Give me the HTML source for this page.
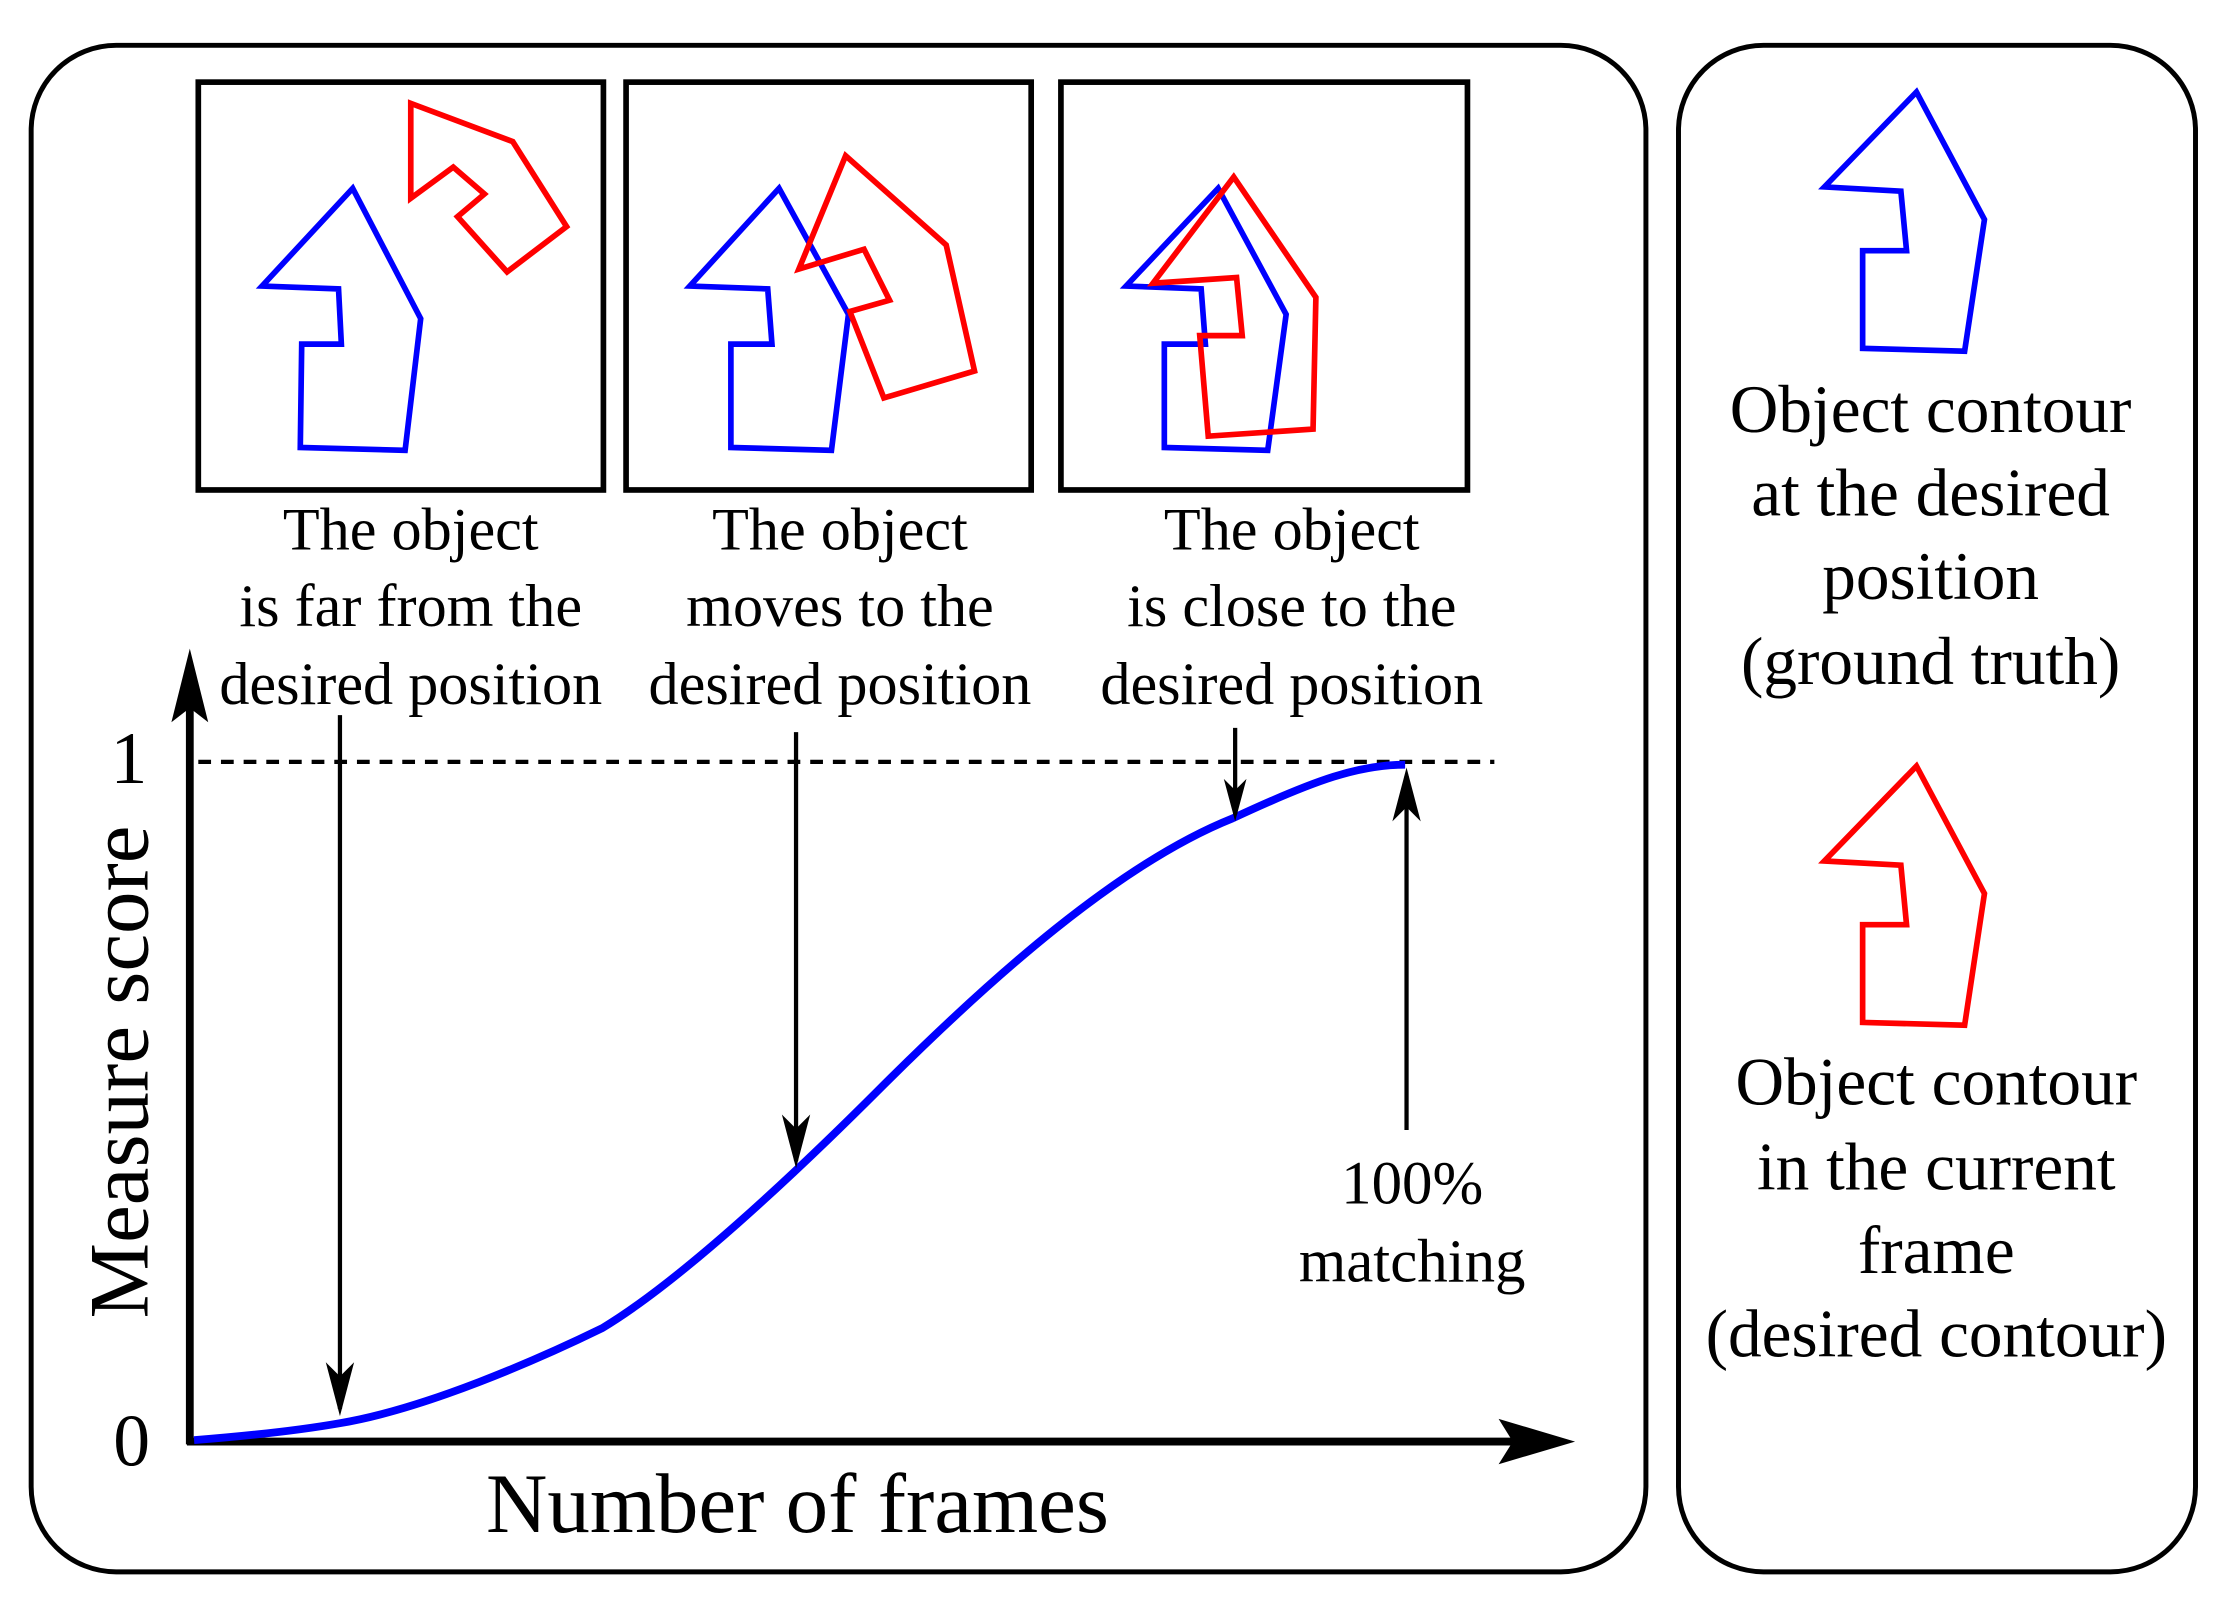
<!DOCTYPE html>
<html><head><meta charset="utf-8"><style>
html,body{margin:0;padding:0;background:#fff;}
svg{display:block;}
text{font-family:"Liberation Serif",serif;fill:#000;}
</style></head><body>
<svg width="2221" height="1603" viewBox="0 0 1568 1132" preserveAspectRatio="none" xmlns="http://www.w3.org/2000/svg">
<rect x="22" y="32" width="1140" height="1078" rx="60" fill="none" stroke="#000" stroke-width="3.5"/>
<rect x="1185" y="32" width="365" height="1078" rx="60" fill="none" stroke="#000" stroke-width="3.5"/>
<g fill="none" stroke="#000" stroke-width="4">
<rect x="140" y="58" width="286" height="288"/>
<rect x="442" y="58" width="286" height="288"/>
<rect x="749" y="58" width="287" height="288"/>
</g>
<g fill="none" stroke-width="4" stroke-linejoin="miter">
<polygon stroke="#0000ff" points="185,202 249,133 297,225 286,318 212,316 213,243 241,243 239,204"/>
<polygon stroke="#ff0000" points="290,73 362,100 400,160 358,192 323,153 342,137 320,118 290,140"/>
<polygon stroke="#0000ff" points="487,202 550,133 599,222 587,318 516,316 516,243 545,243 542,204"/>
<polygon stroke="#ff0000" points="597,110 668,173 688,262 624,281 600,220 628,212 610,176 564,190"/>
<polygon stroke="#0000ff" points="795,202 860,133 908,222 895,318 822,316 822,243 851,243 848,204"/>
<polygon stroke="#ff0000" points="814,200 871,125 929,210 927,303 853,308 847,237 877,237 873,196"/>
<polygon stroke="#0000ff" points="1288,132 1353,65 1401,155 1387,248 1315,246 1315,177 1346,177 1342,135"/>
<polygon stroke="#ff0000" points="1288,608 1353,541 1401,631 1387,724 1315,722 1315,653 1346,653 1342,611"/>
</g>
<g font-size="42.5" text-anchor="middle">
<text x="290" y="388">The object</text><text x="290" y="442">is far from the</text><text x="290" y="497">desired position</text>
<text x="593" y="388">The object</text><text x="593" y="442">moves to the</text><text x="593" y="497">desired position</text>
<text x="912" y="388">The object</text><text x="912" y="442">is close to the</text><text x="912" y="497">desired position</text>
</g>
<g font-size="47.5" text-anchor="middle">
<text x="1363" y="305">Object contour</text><text x="1363" y="364">at the desired</text><text x="1363" y="423">position</text><text x="1363" y="483">(ground truth)</text>
<text x="1367" y="780">Object contour</text><text x="1367" y="840">in the current</text><text x="1367" y="899">frame</text><text x="1367" y="958">(desired contour)</text>
</g>
<line x1="140" y1="538" x2="1055" y2="538" stroke="#000" stroke-width="3" stroke-dasharray="9,7"/>
<line x1="134" y1="1020" x2="134" y2="495" stroke="#000" stroke-width="5.5"/>
<path d="M134,458 L121,510 L134,500 L147,510 Z" fill="#000"/>
<line x1="132" y1="1018" x2="1075" y2="1018" stroke="#000" stroke-width="5.5"/>
<path d="M1112,1018 L1058,1002 L1068,1018 L1058,1034 Z" fill="#000"/>
<path d="M137,1017 Q200,1012 240,1005 C300,995 380,960 425,938 C480,905 560,830 620,770 C700,690 790,610 870,578 C930,550 960,540 992,540" fill="none" stroke="#0000ff" stroke-width="5.5"/>
<g stroke="#000" stroke-width="3" fill="none">
<line x1="240" y1="505" x2="240" y2="995"/>
<line x1="562" y1="517" x2="562" y2="820"/>
<line x1="872" y1="514" x2="872" y2="575"/>
<line x1="993" y1="798" x2="993" y2="548"/>
</g>
<g fill="#000">
<path d="M240,1000 L230,962 L240,972 L250,962 Z"/>
<path d="M562,825 L552,787 L562,797 L572,787 Z"/>
<path d="M872,580 L864,550 L872,558 L880,550 Z"/>
<path d="M993,542 L983,580 L993,570 L1003,580 Z"/>
</g>
<text x="997" y="850" font-size="43" text-anchor="middle">100%</text>
<text x="997" y="905" font-size="43" text-anchor="middle">matching</text>
<text x="91" y="553" font-size="52" text-anchor="middle">1</text>
<text x="93" y="1035" font-size="52" text-anchor="middle">0</text>
<text x="563" y="1082" font-size="60" text-anchor="middle">Number of frames</text>
<text transform="translate(104,757) rotate(-90)" font-size="60" text-anchor="middle">Measure score</text>
</svg>
</body></html>
